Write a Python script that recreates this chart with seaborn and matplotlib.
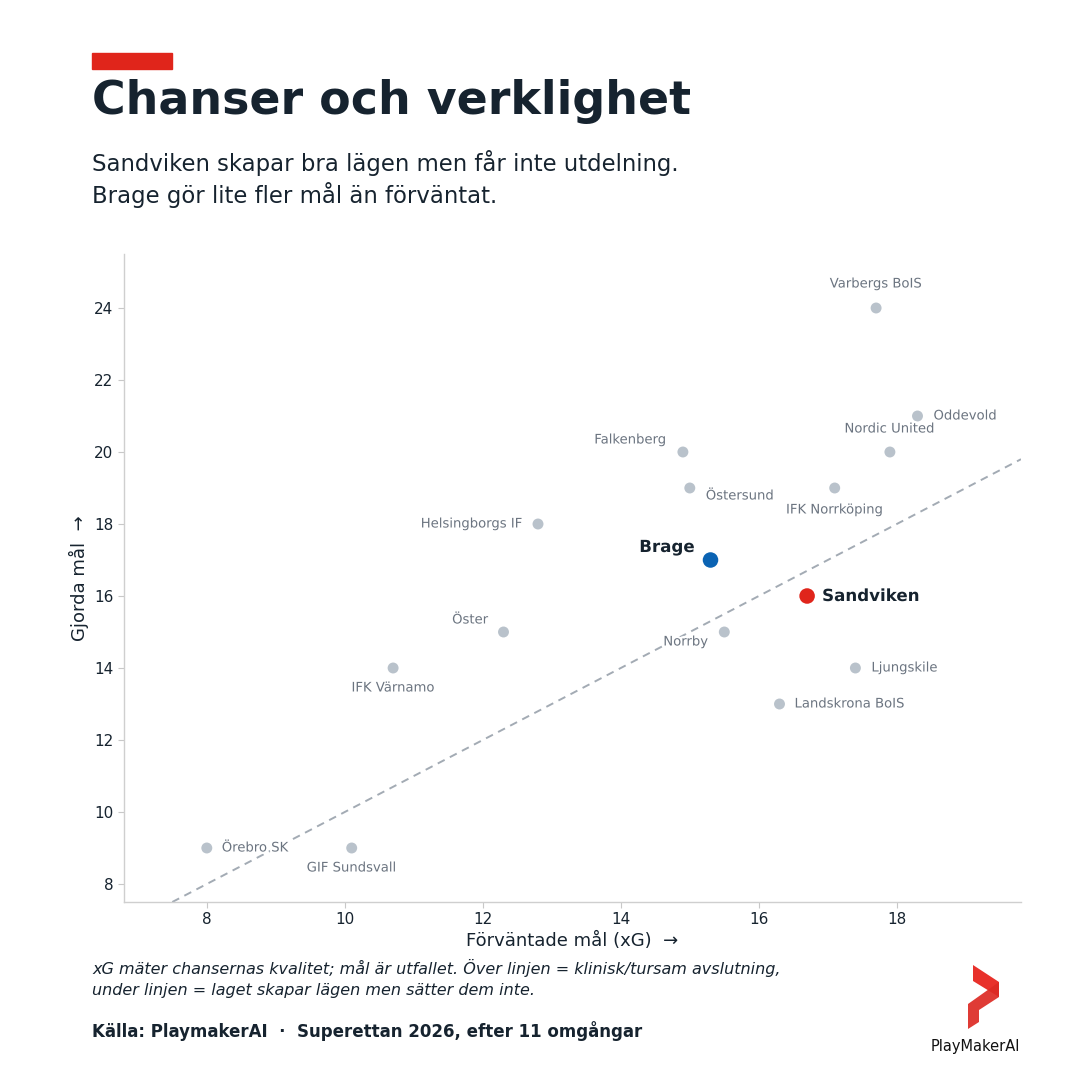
import numpy as np
import pandas as pd
import matplotlib
matplotlib.use('Agg')
import matplotlib.pyplot as plt
import matplotlib.patheffects as pe
from matplotlib.patches import Polygon, Rectangle
import seaborn as sns

teams = ['Örebro SK', 'GIF Sundsvall', 'IFK Värnamo', 'Öster', 'Helsingborgs IF',
         'Falkenberg', 'Östersund', 'Brage', 'Norrby', 'Landskrona BoIS',
         'Sandviken', 'IFK Norrköping', 'Varbergs BoIS', 'Ljungskile',
         'Nordic United', 'Oddevold']
xg = [8.0, 10.1, 10.7, 12.3, 12.8, 14.9, 15.0, 15.3, 15.5, 16.3,
      16.7, 17.1, 17.7, 17.4, 17.9, 18.3]
goals = [9, 9, 14, 15, 18, 20, 19, 17, 15, 13, 16, 19, 24, 14, 20, 21]

# label placement: (dx px, dy px, ha)
label_pos = {
    'Örebro SK': (15, 0, 'left'),
    'GIF Sundsvall': (0, -20, 'center'),
    'IFK Värnamo': (0, -20, 'center'),
    'Öster': (-15, 12, 'right'),
    'Helsingborgs IF': (-15, 0, 'right'),
    'Falkenberg': (-16, 12, 'right'),
    'Östersund': (16, -8, 'left'),
    'Brage': (-16, 13, 'right'),
    'Norrby': (-16, -10, 'right'),
    'Landskrona BoIS': (15, 0, 'left'),
    'Sandviken': (15, 0, 'left'),
    'IFK Norrköping': (0, -22, 'center'),
    'Varbergs BoIS': (0, 24, 'center'),
    'Ljungskile': (16, 0, 'left'),
    'Nordic United': (0, 23, 'center'),
    'Oddevold': (16, 0, 'left'),
}

highlight = {'Brage': '#0b63b3', 'Sandviken': '#e0251b'}
grey = '#b9c2cb'
dark = '#16232f'
label_grey = '#6b7480'

df = pd.DataFrame({'team': teams, 'xg': xg, 'goals': goals})
df['group'] = [t if t in highlight else 'Övriga' for t in df['team']]

sns.set_theme(style='white')
plt.rcParams['font.family'] = ['DejaVu Sans']

fig = plt.figure(figsize=(10.8, 10.8), dpi=100)
ax = fig.add_axes([124 / 1080, 1 - 902 / 1080, (1021 - 124) / 1080, (902 - 254) / 1080])

others = df[df['group'] == 'Övriga']
sns.scatterplot(data=others, x='xg', y='goals', color=grey, s=62, edgecolor='none',
                ax=ax, zorder=3)
hl = df[df['group'] != 'Övriga']
sns.scatterplot(data=hl, x='xg', y='goals', hue='group', palette=highlight, s=125,
                edgecolor='none', ax=ax, zorder=4, legend=False)

ax.set_xlim(6.8, 19.8)
ax.set_ylim(7.5, 25.5)
lims = np.array([6.8, 19.8])
ax.plot(lims, lims, ls=(0, (4, 3)), color='#a3abb4', lw=1.4, zorder=2)

halo = [pe.withStroke(linewidth=3, foreground='white')]
for t, x, y in zip(teams, xg, goals):
    dx, dy, ha = label_pos[t]
    if t in highlight:
        ax.annotate(t, (x, y), xytext=(dx, dy), textcoords='offset pixels', ha=ha,
                    va='center', fontsize=12, fontweight='bold', color=dark,
                    zorder=5, path_effects=halo)
    else:
        ax.annotate(t, (x, y), xytext=(dx, dy), textcoords='offset pixels', ha=ha,
                    va='center', fontsize=9.5, color=label_grey, zorder=5,
                    path_effects=halo)

ax.set_xticks([8, 10, 12, 14, 16, 18])
ax.set_yticks([8, 10, 12, 14, 16, 18, 20, 22, 24])
ax.tick_params(axis='both', labelsize=11, colors='#c8c8c8', labelcolor=dark,
               length=4, width=0.8, bottom=True, left=True)
for s in ['top', 'right']:
    ax.spines[s].set_visible(False)
for s in ['left', 'bottom']:
    ax.spines[s].set_color('#cfcfcf')
    ax.spines[s].set_linewidth(1)
ax.set_xlabel('Förväntade mål (xG)  →', fontsize=13, color=dark, labelpad=3)
ax.set_ylabel('Gjorda mål  →', fontsize=13, color=dark, labelpad=3.5)

# header
fig.patches.append(Rectangle((92 / 1080, 1 - 69 / 1080), 80 / 1080, 16 / 1080,
                             transform=fig.transFigure, color='#e0251b'))
fig.text(92 / 1080, 1 - 101 / 1080, 'Chanser och verklighet', fontsize=33,
         fontweight='bold', color=dark, va='center')
fig.text(92 / 1080, 1 - 163 / 1080, 'Sandviken skapar bra lägen men får inte utdelning.',
         fontsize=16.4, color=dark, va='center')
fig.text(92 / 1080, 1 - 195 / 1080, 'Brage gör lite fler mål än förväntat.',
         fontsize=16.4, color=dark, va='center')

# footer
fig.text(92 / 1080, 1 - 968 / 1080,
         'xG mäter chansernas kvalitet; mål är utfallet. Över linjen = klinisk/tursam avslutning,',
         fontsize=11.5, style='italic', color=dark, va='center')
fig.text(92 / 1080, 1 - 990 / 1080,
         'under linjen = laget skapar lägen men sätter dem inte.',
         fontsize=11.5, style='italic', color=dark, va='center')
fig.text(92 / 1080, 1 - 1031 / 1080,
         'Källa: PlaymakerAI  ·  Superettan 2026, efter 11 omgångar',
         fontsize=12, fontweight='bold', color=dark, va='center')

# logo
def fp(pts):
    return [(x / 1080, 1 - y / 1080) for x, y in pts]

fig.patches.append(Polygon(fp([(973, 965), (999, 982), (999, 997), (973, 981)]),
                           closed=True, transform=fig.transFigure,
                           color='#e8312b', lw=0))
fig.patches.append(Polygon(fp([(999, 982), (999, 997), (979, 1010), (979, 1022),
                               (968, 1029), (968, 1004)]),
                           closed=True, transform=fig.transFigure,
                           color='#dd2a24', alpha=0.92, lw=0))
fig.text(975 / 1080, 1 - 1047 / 1080, 'PlayMakerAI', fontsize=10.5, fontweight='normal',
         color='#111111', ha='center', va='center')

fig.savefig('out.png', dpi=100, facecolor='white')
